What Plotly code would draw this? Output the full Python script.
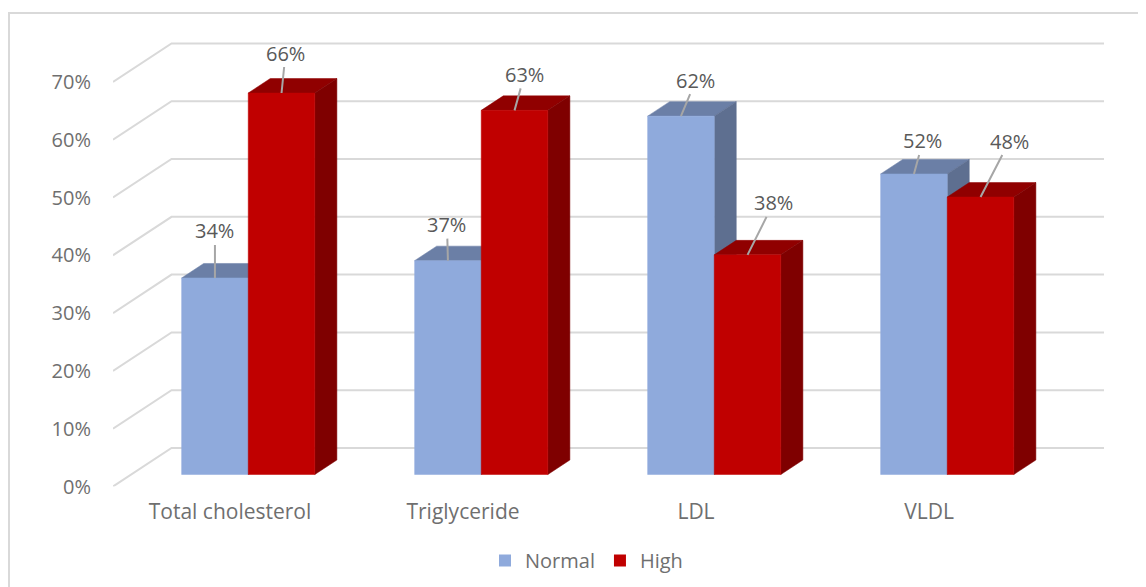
import plotly.graph_objects as go

# ---- data ----
categories = ["Total cholesterol", "Triglyceride", "LDL", "VLDL"]
normal = [34, 37, 62, 52]
high = [66, 63, 38, 48]
y_ticks = [0, 10, 20, 30, 40, 50, 60, 70]

# label offsets from the top-front edge of each bar (px)
normal_label_offsets = [(0, -47), (-1, -36), (15, -36), (9, -33)]
high_label_offsets = [(4, -40), (10, -36), (26, -52), (29, -56)]

# ---- style ----
FONT = "Open Sans"
TEXT = "#6f6f6f"
LABEL = "#595959"
GRID = "#d9d9d9"
BLUE = ("#8faadc", "#6b7fa6", "#5e6f90")
RED = ("#c00000", "#900000", "#7f0000")

# The page has an 8px body margin: all layout pixels below are window pixels
# and get converted by PAGE.
PAGE = 8
WIN_W, WIN_H = 1146, 587
W, H = WIN_W - PAGE, WIN_H - PAGE
L, R, T, B = 113, 1112, 30, 486.5
STEP = 233.0
CAT0 = 230.0
PX_PER_PCT = 5.78
SLANT = 1.52
BAR_W = 66.6 / STEP
D_FRONT, D_BACK, D_WALL = 12.0, 26.5, 38.5


def xr(px):
    return (px - CAT0) / STEP


def proj(x, v, d):
    return x + d * SLANT / STEP, v + d / PX_PER_PCT


def poly(pts, color):
    xs, ys = zip(*pts)
    return go.Scatter(
        x=list(xs) + [xs[0]], y=list(ys) + [ys[0]], mode="lines", fill="toself",
        fillcolor=color, line=dict(color=color, width=0.5), hoverinfo="skip", showlegend=False,
    )


fig = go.Figure()

# walls: gridline bends at the back corner
wall_right = xr(1104)
for t in y_ticks:
    x0 = xr(L)
    bx, by = proj(x0, t, D_WALL)
    fig.add_trace(go.Scatter(
        x=[x0, bx, wall_right], y=[t, by, by], mode="lines",
        line=dict(color=GRID, width=2), hoverinfo="skip", showlegend=False,
    ))


def box(x0, x1, v, colors):
    front_bl = proj(x0, 0, D_FRONT)
    front_br = proj(x1, 0, D_FRONT)
    front_tr = proj(x1, v, D_FRONT)
    front_tl = proj(x0, v, D_FRONT)
    back_tl = proj(x0, v, D_BACK)
    back_tr = proj(x1, v, D_BACK)
    back_br = proj(x1, 0, D_BACK)
    fig.add_trace(poly([front_tl, back_tl, back_tr, front_tr], colors[1]))
    fig.add_trace(poly([front_br, back_br, back_tr, front_tr], colors[2]))
    fig.add_trace(poly([front_bl, front_br, front_tr, front_tl], colors[0]))


annotations = []


def label(xc, v, off):
    ax, ay = proj(xc, v, D_FRONT)
    annotations.append(dict(
        x=ax, y=ay, xref="x", yref="y", text=f"{v}%", showarrow=True, arrowhead=0,
        arrowwidth=2, arrowcolor="#a6a6a6", ax=off[0], ay=off[1], axref="pixel", ayref="pixel",
        font=dict(family=FONT, size=20, color=LABEL), standoff=0, startstandoff=0,
        borderpad=0,
    ))


for i in range(len(categories)):
    box(i - BAR_W, i, normal[i], BLUE)
    box(i, i + BAR_W, high[i], RED)
    label(i - BAR_W / 2, normal[i], normal_label_offsets[i])
    label(i + BAR_W / 2, high[i], high_label_offsets[i])

for name, colors in (("Normal", BLUE), ("High", RED)):
    fig.add_trace(go.Scatter(
        x=[None], y=[None], mode="markers", name=name,
        marker=dict(symbol="square", size=12, color=colors[0]),
    ))


def paper_x(px):
    return (px - PAGE) / W


def paper_y(py):
    return 1 - (py - PAGE) / H


shapes = [
    dict(type="line", xref="paper", yref="paper", x0=paper_x(8), x1=paper_x(WIN_W),
         y0=paper_y(13), y1=paper_y(13), line=dict(color=GRID, width=2)),
    dict(type="line", xref="paper", yref="paper", x0=paper_x(9), x1=paper_x(9),
         y0=paper_y(13), y1=paper_y(WIN_H), line=dict(color=GRID, width=2)),
]

fig.update_layout(
    width=W, height=H, autosize=False,
    margin=dict(l=0, r=0, t=0, b=0, pad=0),
    paper_bgcolor="white", plot_bgcolor="white",
    font=dict(family=FONT, size=20, color=TEXT),
    showlegend=True,
    legend=dict(
        orientation="h", x=paper_x(485), xanchor="left", y=paper_y(580), yanchor="bottom",
        font=dict(family=FONT, size=20, color=TEXT), bgcolor="rgba(0,0,0,0)",
    ),
    annotations=annotations,
    shapes=shapes,
    xaxis=dict(
        automargin=False,
        domain=[paper_x(L), paper_x(R)],
        range=[xr(L), xr(R)], tickmode="array", tickvals=list(range(len(categories))),
        ticktext=categories, showgrid=False, zeroline=False, showline=False,
        ticks="", ticklabelstandoff=10, tickfont=dict(family=FONT, size=21, color=TEXT),
    ),
    yaxis=dict(
        automargin=False,
        domain=[paper_y(B), paper_y(T)],
        range=[0, (B - T) / PX_PER_PCT], tickmode="array", tickvals=y_ticks,
        ticktext=[f"{t}%" for t in y_ticks], showgrid=False, zeroline=False, showline=False,
        ticks="", ticklabelstandoff=21, tickfont=dict(family=FONT, size=20, color=TEXT),
    ),
)

fig.write_html("out.html")
